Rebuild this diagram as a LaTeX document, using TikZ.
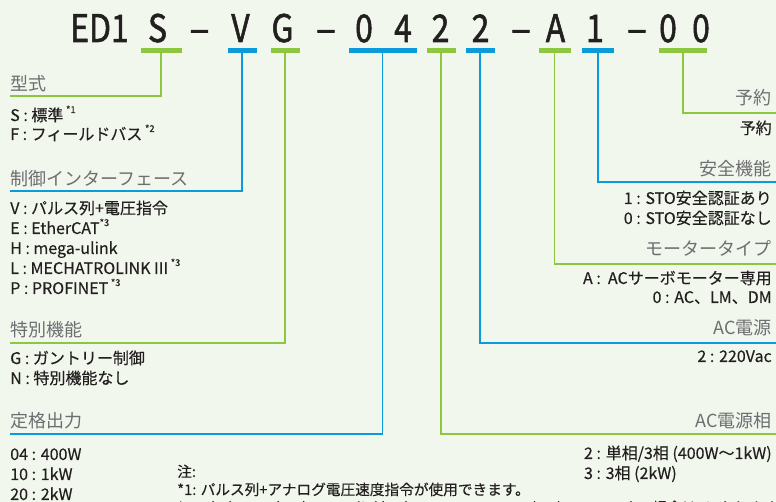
\documentclass[tikz,border=0pt]{standalone}
\usepackage{fontspec}
\usepackage{graphicx}
\setmainfont{Noto Sans CJK JP}
\newfontfamily\titlefont{Noto Sans CJK JP}[FakeBold=1.6]
\newfontfamily\bodyfont{Noto Sans CJK JP}[FakeBold=0.25]
\definecolor{bg}{HTML}{F1F7EC}
\definecolor{grn}{HTML}{8DC63F}
\definecolor{blu}{HTML}{0A9BDB}
\definecolor{hdr}{HTML}{6D6E71}
\definecolor{txt}{HTML}{231F20}
\newcommand\supx[1]{\raisebox{0.5em}{\fontsize{7}{8}\selectfont #1}}
\newcommand\ttl[1]{\scalebox{0.84}[1]{#1}}
\tikzset{
  tl/.style={font=\titlefont\fontsize{28.5}{30}\selectfont, text=txt, anchor=base, inner sep=0pt},
  gbar/.style={fill=grn, inner sep=0pt, minimum height=3.75pt},
  bbar/.style={fill=blu, inner sep=0pt, minimum height=3.75pt},
  gline/.style={draw=grn, line width=1.4pt},
  bline/.style={draw=blu, line width=1.4pt},
  hd/.style={font=\fontsize{13.5}{16}\selectfont, text=hdr, inner sep=0pt},
  bd/.style={font=\bodyfont\fontsize{12}{14}\selectfont, text=txt, inner sep=0pt},
  nt/.style={font=\bodyfont\fontsize{11}{13}\selectfont, text=txt, inner sep=0pt, anchor=base west},
}
\begin{document}
\begin{tikzpicture}[x=0.75pt,y=-0.75pt]
\fill[bg] (0,0) rectangle (776,502);
\useasboundingbox (0,0) rectangle (776,502);
\clip (0,0) rectangle (776,502);

% title
\node[tl] (tED) at (99.5,42) {\ttl{ED1}};
\node[tl] (tS) at (157.5,42) {\ttl{S}};
\node[tl] (td1) at (199.5,42) {–};
\node[tl] (tV) at (240.5,42) {\ttl{V}};
\node[tl] (tG) at (282.5,42) {\ttl{G}};
\node[tl] (td2) at (326,42) {–};
\node[tl] (t0a) at (364,42) {\ttl{0}};
\node[tl] (t4) at (403,42) {\ttl{4}};
\node[tl] (t2a) at (440.5,42) {\ttl{2}};
\node[tl] (t2b) at (480.5,42) {\ttl{2}};
\node[tl] (td3) at (521,42) {–};
\node[tl] (tA) at (555.5,42) {\ttl{A}};
\node[tl] (t1) at (595,42) {\ttl{1}};
\node[tl] (td4) at (637,42) {–};
\node[tl] (t0b) at (668,42) {\ttl{0}};
\node[tl] (t0c) at (701,42) {\ttl{0}};

% bars
\node[gbar, minimum width=30.75pt] (bS) at (161,50.5) {};
\node[bbar, minimum width=21.75pt] (bV) at (242,50.5) {};
\node[gbar, minimum width=21.75pt] (bG) at (285,50.5) {};
\node[bbar, minimum width=51pt] (b04) at (382.5,50.5) {};
\node[gbar, minimum width=21.75pt] (b2g) at (441,50.5) {};
\node[bbar, minimum width=21.75pt] (b2b) at (480,50.5) {};
\node[gbar, minimum width=24pt] (bA) at (554.5,50.5) {};
\node[bbar, minimum width=24pt] (b1) at (598,50.5) {};
\node[gbar, minimum width=36pt] (b00) at (683,50.5) {};

% line ends
\coordinate (eS) at (10,96);
\coordinate (eV) at (10,191);
\coordinate (eG) at (10,343);
\coordinate (e04) at (10,434);
\coordinate (e2g) at (777,434);
\coordinate (e2b) at (777,343);
\coordinate (eA) at (777,264);
\coordinate (e1) at (777,182);
\coordinate (e00) at (777,113);

\draw[gline] (bS.south) |- (eS);
\draw[bline] (bV.south) |- (eV);
\draw[gline] (bG.south) |- (eG);
\draw[bline] (b04.south) |- (e04);
\draw[gline] (b2g.south) |- (e2g);
\draw[bline] (b2b.south) |- (e2b);
\draw[gline] (bA.south) |- (eA);
\draw[bline] (b1.south) |- (e1);
\draw[gline] (b00.south) |- (e00);

% left column
\node[hd, anchor=base west] (h1) at (10,91) {型式};
\node[bd, anchor=base west] (s1) at (10,121) {S : 標準\,\supx{*1}};
\node[bd, anchor=base west] (s2) at (10,140) {F : フィールドバス\,\supx{*2}};
\node[hd, anchor=base west] (h2) at (10,186) {制御インターフェース};
\node[bd, anchor=base west] (v1) at (10,214) {V : パルス列+電圧指令};
\node[bd, anchor=base west] (v2) at (10,234) {E : EtherCAT\supx{*3}};
\node[bd, anchor=base west] (v3) at (10,254) {H : mega-ulink};
\node[bd, anchor=base west] (v4) at (10,274) {L : MECHATROLINK III\,\supx{*3}};
\node[bd, anchor=base west] (v5) at (10,294) {P : PROFINET\,\supx{*3}};
\node[hd, anchor=base west] (h3) at (10,337) {特別機能};
\node[bd, anchor=base west] (g1) at (10,364) {G : ガントリー制御};
\node[bd, anchor=base west] (g2) at (10,384) {N : 特別機能なし};
\node[hd, anchor=base west] (h4) at (10,428) {定格出力};
\node[bd, anchor=base west] (p1) at (10,460) {04 : 400W};
\node[bd, anchor=base west] (p2) at (10,480) {10 : 1kW};
\node[bd, anchor=base west] (p3) at (10,500) {20 : 2kW};

% notes
\node[nt] (n0) at (177,477) {注:};
\node[nt] (n1) at (177,495) {*1: パルス列+アナログ電圧速度指令が使用できます。};
\node[nt] (n2) at (177,513) {*2: E(EtherCAT), H(mega-ulink), L(MECHATROLINK III), P(PROFINET) の場合はFになります。};

% right column
\node[hd, anchor=base east] (r1) at (772,105) {予約};
\node[bd, anchor=base east] (r1a) at (772,134) {予約};
\node[hd, anchor=base east] (r2) at (772,176) {安全機能};
\node[bd, anchor=base east] (r2a) at (772,204) {1 : STO安全認証あり};
\node[bd, anchor=base east] (r2b) at (772,224) {0 : STO安全認証なし};
\node[hd, anchor=base east] (r3) at (772,256) {モータータイプ};
\node[bd, anchor=base east] (r3a) at (772,284) {A :\ \ ACサーボモーター専用};
\node[bd, anchor=base east] (r3b) at (772,303) {0 : AC、LM、DM};
\node[hd, anchor=base east] (r4) at (772,335) {AC電源};
\node[bd, anchor=base east] (r4a) at (772,362) {2 : 220Vac};
\node[hd, anchor=base east] (r5) at (772,428) {AC電源相};
\node[bd, anchor=base east] (r5a) at (772,459) {2 : 単相/3相 (400W〜1kW)};
\node[bd, anchor=base west] (r5b) at ([yshift=-15pt]r5a.base west) {3 : 3相 (2kW)};
\end{tikzpicture}
\end{document}
